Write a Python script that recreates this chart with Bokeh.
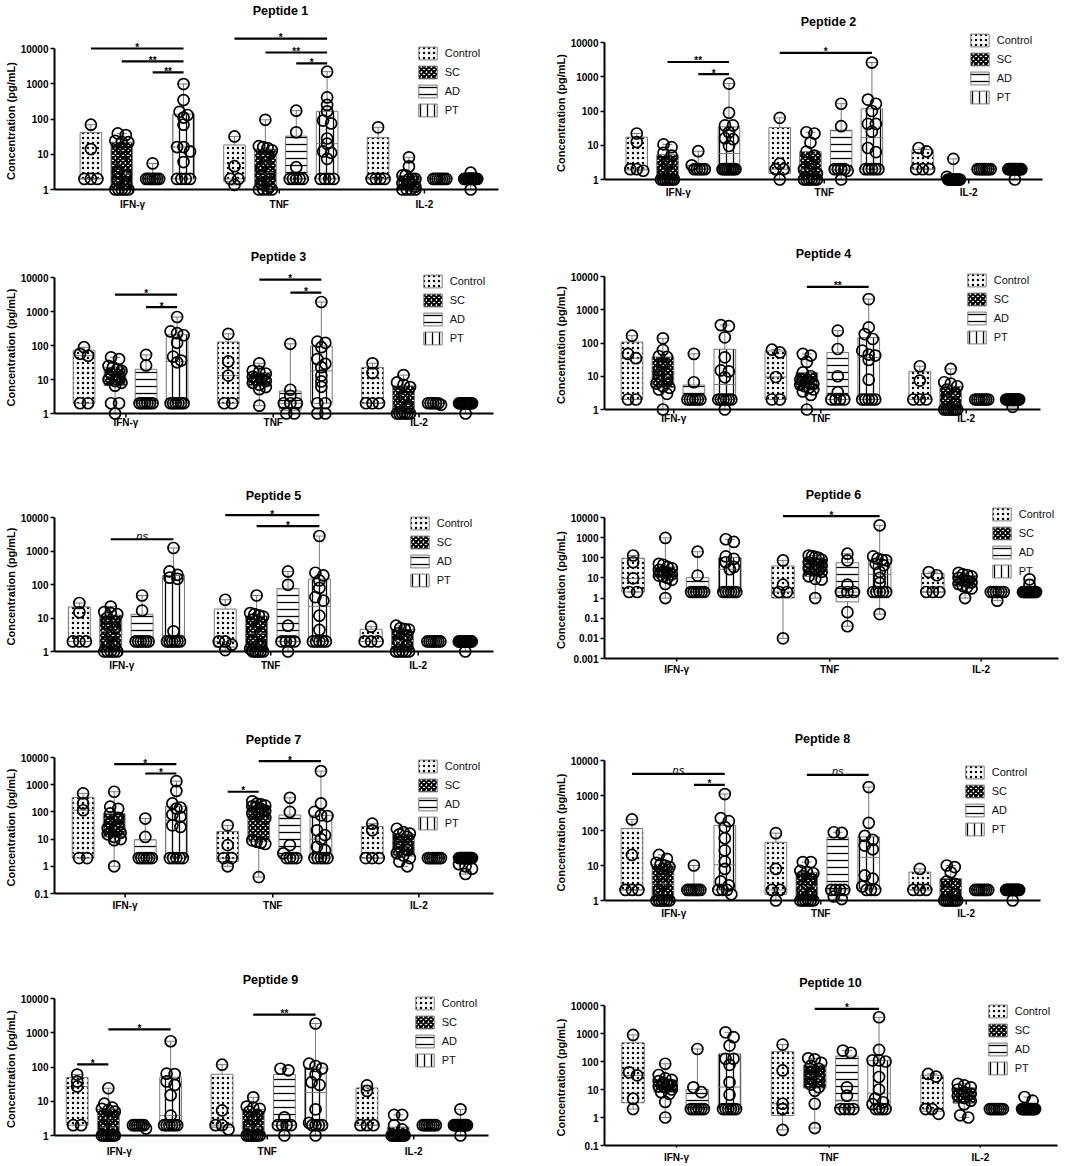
import json
import numpy as np
from bokeh.plotting import figure
from bokeh.layouts import row, column
from bokeh.models import Range1d, FixedTicker, CustomJSTickFormatter, Legend, LegendItem, Title
from bokeh.core.properties import value
from bokeh.embed import file_html
from bokeh.resources import INLINE

# ---------------------------------------------------------------- data
GROUPS = ["Control", "SC", "AD", "PT"]
CYTOKINES = ["IFN-γ", "TNF", "IL-2"]
TITLES = ["Peptide 1", "Peptide 2", "Peptide 3", "Peptide 4", "Peptide 5",
          "Peptide 6", "Peptide 7", "Peptide 8", "Peptide 9", "Peptide 10"]
Y_LABEL = "Concentration (pg/mL)"
Y_TICKS = [0.001, 0.01, 0.1, 1, 10, 100, 1000, 10000]
Y_MIN = [1, 1, 1, 1, 1, 0.001, 0.1, 1, 1, 0.1]

# each cytokine list holds one list of values per group: Control, SC, AD, PT
P1_IFN = [[69, 14, 2, 2, 2],
          [39, 35, 24, 22, 22, 15, 6, 3, 2.5, 2, 1.5, 1, 1, 1, 1, 1],
          [5.5, 2, 2, 2, 2, 2, 2, 2],
          [980, 345, 160, 130, 110, 69, 16, 16, 12, 6, 2, 2, 2, 2]]
P1_TNF = [[32, 4.6, 2, 2, 1.35],
          [95, 17, 16, 15, 13, 9, 6, 4, 3, 2.5, 2, 1.5, 1.2, 1, 1, 1, 1],
          [172, 42, 4.3, 2, 2, 2, 2, 2],
          [2200, 410, 250, 165, 90, 75, 28, 20, 12, 11, 7.4, 2, 2, 2, 2]]
P1_IL2 = [[58, 2, 2, 2, 2],
          [8.2, 4.5, 2.5, 2.5, 2, 2, 2, 1.5, 1.5, 1.2, 1, 1, 1, 1],
          [2, 2, 2, 2, 2, 2, 2],
          [3, 2, 2, 2, 2, 2, 2, 2, 2, 2, 2, 1]]
P1_SIG = [(0, 0, 3, 10000, "*"), (0, 1, 3, 4300, "**"), (0, 2, 3, 2100, "**"),
          (1, 0, 3, 19000, "*"), (1, 1, 3, 7700, "**"), (1, 2, 3, 3800, "*")]

P2_IFN = [[22, 12.4, 2, 2, 1.8],
          [10.6, 8.8, 6, 5, 3, 2, 1.5, 1, 1, 1, 1, 1, 1, 1],
          [6.7, 2.6, 2, 2, 2, 2, 2],
          [630, 89, 38, 38, 24, 16, 15, 9.5, 2, 2, 2, 2, 2, 2, 2, 2]]
P2_TNF = [[63, 2.9, 2, 2, 1],
          [24, 22, 12, 6.5, 5, 3, 2, 2, 1.5, 1, 1, 1, 1, 1, 1],
          [163, 36, 2, 2, 2, 2, 1.8, 1],
          [2600, 215, 163, 100, 42, 42, 25, 8.3, 6.3, 2, 2, 2, 2, 2]]
P2_IL2 = [[8.3, 6.6, 2, 2, 2],
          [4, 1.2, 1, 1, 1, 1, 1, 1, 1, 1, 1, 1],
          [2, 2, 2, 2, 2, 2, 2],
          [2, 2, 2, 2, 2, 2, 2, 2, 2, 2, 2, 2, 1]]
P2_SIG = [(0, 1, 3, 2700, "**"), (0, 2, 3, 1190, "*"), (1, 0, 3, 5000, "*")]

P3_IFN = [[89, 57, 50, 2, 2],
          [45, 40, 25, 23, 20, 18, 15, 12, 10, 9, 8, 6.6, 2, 2, 1],
          [53, 26, 2, 2, 2, 2, 2, 2],
          [690, 260, 230, 200, 120, 47, 36, 32, 2, 2, 2, 2, 2, 2]]
P3_TNF = [[220, 34, 13, 2, 2],
          [30, 18, 17, 15, 12, 10, 10, 9, 8, 7, 6, 5.2, 1.7],
          [112, 5, 3.3, 2, 2, 2, 1, 1],
          [1900, 130, 120, 89, 40, 29, 23, 13, 8.8, 6.1, 2, 2, 1, 1]]
P3_IL2 = [[30, 15.5, 2, 2, 2],
          [13.5, 8.2, 7, 6, 3, 2, 1.5, 1, 1, 1, 1, 1, 1],
          [2, 2, 2, 2, 2, 1.8],
          [2, 2, 2, 2, 2, 2, 2, 2, 2, 2, 2, 2, 1]]
P3_SIG = [(0, 1, 3, 3150, "*"), (0, 2, 3, 1350, "*"),
          (1, 1, 3, 8700, "*"), (1, 2, 3, 3600, "*")]

P4_IFN = [[166, 47, 35, 2, 2],
          [138, 62, 40, 38, 25, 15, 12, 10, 8, 6, 5, 4.5, 4, 2.95, 1],
          [47, 6.6, 2, 2, 2, 2, 2, 2],
          [347, 320, 148, 37, 15, 14, 9.3, 2, 2, 2, 2, 2, 2, 1]]
P4_TNF = [[63, 52, 9.5, 2, 2],
          [47, 42, 27, 13, 10, 8, 7, 6, 5.5, 5, 4.5, 4, 3.5, 2.75, 1],
          [235, 66, 10, 3.3, 2, 2, 2, 2],
          [2090, 295, 186, 132, 59, 45, 42, 31, 7.9, 2, 2, 2, 2, 2]]
P4_IL2 = [[20, 7.4, 2, 2, 2],
          [16.6, 6.6, 6, 5, 4, 3, 2, 1.5, 1, 1, 1, 1, 1, 1, 1],
          [2, 2, 2, 2, 2, 2, 2],
          [2, 2, 2, 2, 2, 2, 2, 2, 2, 2, 2, 2, 1.2]]
P4_SIG = [(1, 1, 3, 4900, "**")]

P5_IFN = [[28, 14.8, 2, 2, 2],
          [22, 15, 14, 13, 10, 8, 7, 5, 3, 2, 1.5, 1, 1, 1, 1, 1],
          [47, 16.6, 2, 2, 2, 2, 2, 2],
          [1230, 245, 195, 160, 148, 4, 2, 2, 2, 2, 2, 2]]
P5_TNF = [[35, 2, 2, 1.6, 1.1],
          [47, 14, 13, 12, 11, 9, 7, 4, 3.5, 2, 1.5, 1.2, 1, 1, 1, 1, 1],
          [245, 98, 5.9, 2, 2, 2, 2, 1],
          [2800, 224, 186, 132, 79, 42, 33, 11.7, 4.4, 2, 2, 2, 2, 2]]
P5_IL2 = [[5.5, 2, 2, 2],
          [5.9, 5, 4.7, 4.5, 3.5, 3, 2, 1.5, 1, 1, 1, 1, 1],
          [2, 2, 2, 2, 2, 2, 2],
          [2, 2, 2, 2, 2, 2, 2, 2, 2, 2, 2, 2, 1]]
P5_SIG = [(0, 1, 3, 2240, "ns"), (1, 0, 3, 11700, "*"), (1, 1, 3, 5500, "*")]

P6_IFN = [[130, 60, 9.5, 2, 2],
          [970, 50, 45, 35, 30, 25, 20, 18, 15, 13, 12, 10, 8, 5, 1],
          [200, 13, 2, 2, 2, 2, 2, 2],
          [830, 610, 117, 89, 60, 35, 27, 2, 2, 2, 2, 2, 2]]
P6_TNF = [[74, 4.6, 2, 2, 0.01],
          [130, 120, 110, 100, 80, 60, 50, 40, 30, 25, 20, 12, 9, 8.3, 1],
          [160, 74, 4.6, 2, 2, 2, 0.2, 0.04],
          [4100, 117, 90, 80, 75, 50, 42, 20, 10, 5.6, 2, 2, 2, 2, 2, 0.16]]
P6_IL2 = [[19.6, 13.6, 2, 2, 2],
          [18, 15, 14, 12, 10, 8, 7, 6, 5, 4, 3.5, 3, 1],
          [2, 2, 2, 2, 2, 2, 0.74],
          [8.5, 4.5, 2, 2, 2, 2, 2, 2, 2, 2, 2, 2, 2]]
P6_SIG = [(1, 0, 3, 11650, "*")]

P7_IFN = [[480, 205, 115, 2, 2],
          [550, 155, 130, 88, 60, 40, 30, 25, 20, 17, 15, 12, 10, 9.1, 1],
          [57, 12, 2, 2, 2, 2, 2, 2],
          [1350, 590, 205, 145, 133, 80, 66, 32, 28, 2, 2, 2, 2, 2]]
P7_TNF = [[32, 6, 2, 2, 1],
          [245, 200, 190, 170, 160, 150, 130, 110, 90, 80, 60, 9, 8, 7.4, 6.6, 0.4],
          [330, 100, 6, 3, 2, 2, 2, 2],
          [3160, 205, 100, 75, 70, 21, 14, 10, 5.2, 3.9, 2, 2, 2, 2, 2]]
P7_IL2 = [[37, 21, 2, 2, 2],
          [24, 18, 16, 15, 12, 8, 6, 5, 4, 3, 2.5, 2, 1.5, 1],
          [2, 2, 2, 2, 2, 2, 2],
          [2, 2, 2, 2, 2, 2, 2, 2, 2, 2, 2, 2, 2, 2, 1.2, 1, 0.82, 0.52]]
P7_SIG = [(0, 1, 3, 5690, "*"), (0, 2, 3, 2580, "*"),
          (1, 0, 1, 550, "*"), (1, 1, 3, 7330, "*")]

P8_IFN = [[207, 20, 2, 2, 2],
          [20, 15.5, 12, 11, 10, 9, 8, 5, 3, 2, 1.5, 1, 1, 1, 1, 1, 1],
          [10, 2, 2, 2, 2, 2, 2, 2],
          [1100, 225, 185, 125, 60, 27, 13, 8, 3.5, 2.7, 2, 2, 2, 1.5]]
P8_TNF = [[84, 8, 2, 2, 1],
          [12.5, 12.5, 7, 6.5, 6, 5, 4, 3, 2, 1.5, 1, 1, 1, 1, 1, 1],
          [89, 85, 2, 2, 2, 2, 1.3, 1.1],
          [1740, 165, 70, 54, 37, 29, 5.2, 4.2, 2.5, 2, 2, 2]]
P8_IL2 = [[8, 2, 2, 2],
          [10, 9, 6.4, 3.5, 3, 2, 1.5, 1, 1, 1, 1, 1, 1, 1],
          [2, 2, 2, 2, 2, 2, 2],
          [2, 2, 2, 2, 2, 2, 2, 2, 2, 2, 2, 2, 1]]
P8_SIG = [(0, 0, 3, 4160, "ns"), (0, 2, 3, 2000, "*"), (1, 1, 3, 3900, "ns")]

P9_IFN = [[60, 38, 27, 2, 2],
          [24, 8.5, 6.5, 6, 5.5, 5, 3, 2, 1.5, 1, 1, 1, 1, 1, 1, 1],
          [2, 2, 2, 2, 2, 2, 1.6],
          [565, 64, 62, 38, 30, 15, 3.8, 2, 2, 2, 2, 2, 2]]
P9_TNF = [[117, 5.4, 2, 2, 1.5],
          [13, 7, 6.5, 6, 5, 4, 3, 2, 1.5, 1, 1, 1, 1, 1, 1, 1],
          [89, 80, 3.4, 2, 2, 2, 2, 1],
          [1860, 125, 107, 90, 60, 36, 30, 5.8, 2.35, 2, 2, 2, 2, 1]]
P9_IL2 = [[29, 20, 2, 2, 2],
          [4, 4, 2, 1.5, 1, 1, 1, 1, 1, 1, 1, 1, 1],
          [2, 2, 2, 2, 2, 2, 2],
          [5.8, 2, 2, 2, 2, 2, 2, 2, 2, 2, 2, 2, 1]]
P9_SIG = [(0, 0, 1, 120, "*"), (0, 1, 3, 1260, "*"), (1, 1, 3, 3400, "**")]

P10_IFN = [[890, 41, 32, 4.7, 2],
           [83, 33, 25, 22, 20, 17, 15, 14, 13, 12, 10, 8, 7, 3.6, 1],
           [280, 12, 8, 2, 2, 2, 2, 2, 2],
           [1100, 740, 370, 125, 125, 76, 18, 6.5, 2, 2, 2, 2, 2, 2]]
P10_TNF = [[400, 48, 3.1, 2, 0.36],
           [130, 120, 90, 70, 55, 40, 30, 25, 20, 15, 12, 9, 3.1, 0.42],
           [245, 205, 12, 6, 2, 2, 2, 2],
           [3800, 260, 110, 110, 100, 28, 10, 4.7, 3.5, 3, 2, 2, 2, 2]]
P10_IL2 = [[36, 29, 2, 2, 1.35],
           [16, 14, 12, 10, 8, 7, 6, 5, 4, 3, 1.2, 1],
           [2, 2, 2, 2, 2, 2, 2],
           [5.4, 4, 2, 2, 2, 2, 2, 2, 2, 2, 2, 2, 2]]
P10_SIG = [(1, 1, 3, 7600, "*")]

PANEL_DATA = [
    ((P1_IFN, P1_TNF, P1_IL2), P1_SIG), ((P2_IFN, P2_TNF, P2_IL2), P2_SIG),
    ((P3_IFN, P3_TNF, P3_IL2), P3_SIG), ((P4_IFN, P4_TNF, P4_IL2), P4_SIG),
    ((P5_IFN, P5_TNF, P5_IL2), P5_SIG), ((P6_IFN, P6_TNF, P6_IL2), P6_SIG),
    ((P7_IFN, P7_TNF, P7_IL2), P7_SIG), ((P8_IFN, P8_TNF, P8_IL2), P8_SIG),
    ((P9_IFN, P9_TNF, P9_IL2), P9_SIG), ((P10_IFN, P10_TNF, P10_IL2), P10_SIG),
]

# ---------------------------------------------------------------- layout / style
FONT = "Liberation Sans"
GROUP_STRIDE = 4.65
X_LEFT, X_RIGHT = -0.92, 13.2
BOX_W = 0.7
CAP_W = 0.32
LABEL_X = [1.35, 6.1, 10.8]
GREY = "#7a7a7a"
YLABEL_HALF = 59             # half the length of the rotated y axis title, px

HATCH = {
    "Control": dict(hatch_pattern="dot", hatch_scale=5, hatch_weight=0.8),
    "SC": dict(hatch_pattern="diagonal_cross", hatch_scale=5, hatch_weight=2.0),
    "AD": dict(hatch_pattern="horizontal_line", hatch_scale=7, hatch_weight=1.3),
    "PT": dict(hatch_pattern="vertical_line", hatch_scale=7, hatch_weight=1.3),
}

ROWS = [(0, 235), (235, 230), (465, 230), (695, 240), (935, 231)]
COLS = [(0, 540), (540, 544)]
FRAME_L = [54, 604]          # frame left edge per column (y axis line drawn there)

# axis_x, right_x, y_top(10000), y_bot(min decade), pad, label_dy, title xy, legend xy
GEOM = [
    (62, 498, 48, 189, 7, 14, (280, 10), (418, 53)),
    (608, 1042, 42, 179, 7, 13, (828, 21), (970, 40)),
    (55, 493, 277, 413, 7, 8, (278, 256), (423, 281)),
    (603, 1040, 276, 409, 7, 9, (823, 253), (967, 280)),
    (50, 493, 517, 651, 7, 14, (273, 495), (410, 523)),
    (603, 1058, 517, 658, 3, 10, (833, 494), (992, 514)),
    (54, 493, 757, 893, 3, 11, (273, 739), (418, 766)),
    (603, 1040, 760, 900, 7, 12, (822, 738), (965, 772)),
    (48, 488, 998, 1135, 7, 15, (270, 979), (415, 1003)),
    (603, 1057, 1005, 1145, 2, 12, (830, 982), (988, 1011)),
]
ROW_FRAME_B = [max(GEOM[2 * r][3] + GEOM[2 * r][4], GEOM[2 * r + 1][3] + GEOM[2 * r + 1][4])
               for r in range(5)]


def swarm_offsets(vals, ppd, u):
    lv = np.log10(vals) * ppd
    order = np.argsort(-lv, kind="stable")
    offs = np.zeros(len(vals))
    clusters, cur = [], []
    for i in order:
        if cur and (lv[cur[0]] - lv[i]) > 5.0:
            clusters.append(cur)
            cur = []
        cur.append(i)
    if cur:
        clusters.append(cur)
    for c in clusters:
        n = len(c)
        if n < 2:
            continue
        s = min(8.0, 13.0 / (n - 1))
        for j, i in enumerate(c):
            offs[i] = (j - (n - 1) / 2.0) * s / u
    return offs


def build(idx):
    r, cidx = divmod(idx, 2)
    fy, H = ROWS[r]
    fx, W = COLS[cidx]
    frame_l = FRAME_L[cidx]
    frame_b = ROW_FRAME_B[r]
    ax, rx, y_top, y_bot, pad, label_dy, (tx, ty), (lx, ly) = GEOM[idx]
    y_min = Y_MIN[idx]
    cyt_data, sig = PANEL_DATA[idx]

    u = (rx - ax) / (X_RIGHT - X_LEFT)
    ppd = (y_bot - y_top) / (4 - np.log10(y_min))

    def X(px):
        return X_LEFT + (px - ax) / u

    def Y(py):
        return 10 ** (4 - (py - y_top) / ppd)

    p = figure(width=W, height=H, title=None,
               x_range=Range1d(X(frame_l), X(fx + W)),
               y_range=Range1d(Y(frame_b), Y(fy)),
               y_axis_type="log", output_backend="svg", toolbar_location=None,
               min_border_left=frame_l - fx, min_border_right=0,
               min_border_top=0, min_border_bottom=fy + H - frame_b)
    p.outline_line_color = None
    p.xgrid.visible = False
    p.ygrid.visible = False
    p.background_fill_color = "white"
    p.border_fill_color = "white"

    ya = p.yaxis[0]
    ya.ticker = FixedTicker(ticks=[t for t in Y_TICKS if t >= y_min])
    ya.bounds = (y_min, 10000)
    ya.formatter = CustomJSTickFormatter(
        code="return tick >= 1 ? tick.toFixed(0) : String(Number(tick.toPrecision(1)));")
    ya.axis_line_color = "black"
    ya.axis_line_width = 2
    ya.major_tick_out = 4
    ya.major_tick_in = 0
    ya.major_tick_line_width = 1.5
    ya.major_tick_line_color = "black"
    ya.minor_tick_line_color = None
    ya.major_label_standoff = 2
    ya.major_label_text_font = FONT
    ya.major_label_text_font_size = "10px"
    ya.major_label_text_font_style = "bold"
    ya.major_label_text_color = "black"

    # y axis title on the left side, centred on the decade span like the original
    centre = (y_top + y_bot) / 2.0 + 2
    p.add_layout(Title(text=Y_LABEL, align="left",
                       offset=frame_b - (centre + YLABEL_HALF), standoff=2,
                       text_font=FONT, text_font_size="11px", text_font_style="bold",
                       text_color="black"), "left")

    xa = p.xaxis[0]
    xa.ticker = FixedTicker(ticks=LABEL_X)
    xa.formatter = CustomJSTickFormatter(
        code="return %s[index];" % json.dumps(CYTOKINES, ensure_ascii=False))
    xa.axis_line_color = None
    xa.major_tick_line_color = None
    xa.minor_tick_line_color = None
    xa.major_tick_out = 0
    xa.major_tick_in = 0
    xa.major_label_standoff = int(round(y_bot + label_dy - 5.5 - frame_b))
    xa.major_label_text_font = FONT
    xa.major_label_text_font_size = "10px"
    xa.major_label_text_font_style = "bold"
    xa.major_label_text_color = "black"

    box_r = {}
    wx0, wy0, wx1, wy1 = [], [], [], []
    mx0, mx1, my = [], [], []
    cx0, cx1, cy = [], [], []
    px_, py_ = [], []
    for k, grp in enumerate(GROUPS):
        bx, bb, bt = [], [], []
        for c in range(3):
            vals = np.array(cyt_data[c][k], dtype=float)
            x0 = c * GROUP_STRIDE + k
            q1, med, q3 = np.percentile(vals, [25, 50, 75], method="weibull")
            bx.append(x0); bb.append(q1); bt.append(q3)
            vmin, vmax = vals.min(), vals.max()
            wx0 += [x0, x0]; wx1 += [x0, x0]
            wy0 += [q3, q1]; wy1 += [vmax, vmin]
            mx0.append(x0 - BOX_W / 2); mx1.append(x0 + BOX_W / 2); my.append(med)
            cx0 += [x0 - CAP_W / 2, x0 - CAP_W / 2]
            cx1 += [x0 + CAP_W / 2, x0 + CAP_W / 2]
            cy += [vmax, vmin]
            offs = swarm_offsets(vals, ppd, u)
            px_ += list(x0 + offs)
            py_ += list(vals)
        box_r[grp] = p.vbar(x=bx, width=BOX_W, bottom=bb, top=bt,
                            fill_color="white", line_color=GREY, line_width=1,
                            hatch_color="black", **HATCH[grp])

    p.segment(x0=wx0, y0=wy0, x1=wx1, y1=wy1, line_color=GREY, line_width=1)
    p.segment(x0=cx0, y0=cy, x1=cx1, y1=cy, line_color=GREY, line_width=1)
    p.segment(x0=mx0, y0=my, x1=mx1, y1=my, line_color=GREY, line_width=1)

    # x axis line (at the lowest decade) and its small category ticks
    p.segment(x0=[X(frame_l)], y0=[y_min], x1=[X_RIGHT], y1=[y_min],
              line_color="black", line_width=2)
    p.segment(x0=LABEL_X, y0=[y_min] * 3, x1=LABEL_X, y1=[Y(y_bot + 4)] * 3,
              line_color="black", line_width=1.5)

    # points
    p.scatter(x=px_, y=py_, marker="circle", size=11, fill_color=None,
              line_color="black", line_width=1.7)

    # significance bars
    sx0, sx1, sy = [], [], []
    for (c, a, b, yv, lab) in sig:
        xa_ = c * GROUP_STRIDE + a
        xb_ = c * GROUP_STRIDE + b
        sx0.append(xa_); sx1.append(xb_); sy.append(yv)
        if lab == "ns":
            p.text(x=[(xa_ + xb_) / 2], y=[yv * 10 ** (3.5 / ppd)], text=[lab],
                   text_font=value(FONT), text_font_size="11px",
                   text_font_style="italic", text_align="center",
                   text_baseline="alphabetic", text_color="black")
        else:
            p.text(x=[(xa_ + xb_) / 2], y=[yv * 10 ** (1.0 / ppd)], text=[lab],
                   text_font=value(FONT), text_font_size="10px",
                   text_font_style="bold", text_align="center",
                   text_baseline="alphabetic", text_color="black")
    if sig:
        p.segment(x0=sx0, y0=sy, x1=sx1, y1=sy, line_color="black", line_width=2.2)

    # title
    p.text(x=[X(tx)], y=[Y(ty)], text=[TITLES[idx]], text_font=value(FONT),
           text_font_size="12.5px", text_font_style="bold", text_align="center",
           text_baseline="middle", text_color="black")

    # legend
    gw, gh, sp = 23, 16, 3
    leg_h = 4 * gh + 3 * sp
    loc = (lx - 2.3 - frame_l, frame_b - (ly - gh / 2 + leg_h))
    legend = Legend(items=[LegendItem(label=g, renderers=[box_r[g]]) for g in GROUPS],
                    location=loc, orientation="vertical",
                    glyph_width=gw, glyph_height=gh, label_height=gh, spacing=sp,
                    label_standoff=6, padding=0, margin=0,
                    border_line_color=None, background_fill_alpha=0,
                    label_text_font=FONT, label_text_font_size="11px",
                    label_text_color="#111111")
    p.add_layout(legend)
    return p


layout = column(*[row(build(2 * r), build(2 * r + 1)) for r in range(5)])
open("out.html", "w").write(file_html(layout, INLINE, "Peptide cytokine concentrations"))
